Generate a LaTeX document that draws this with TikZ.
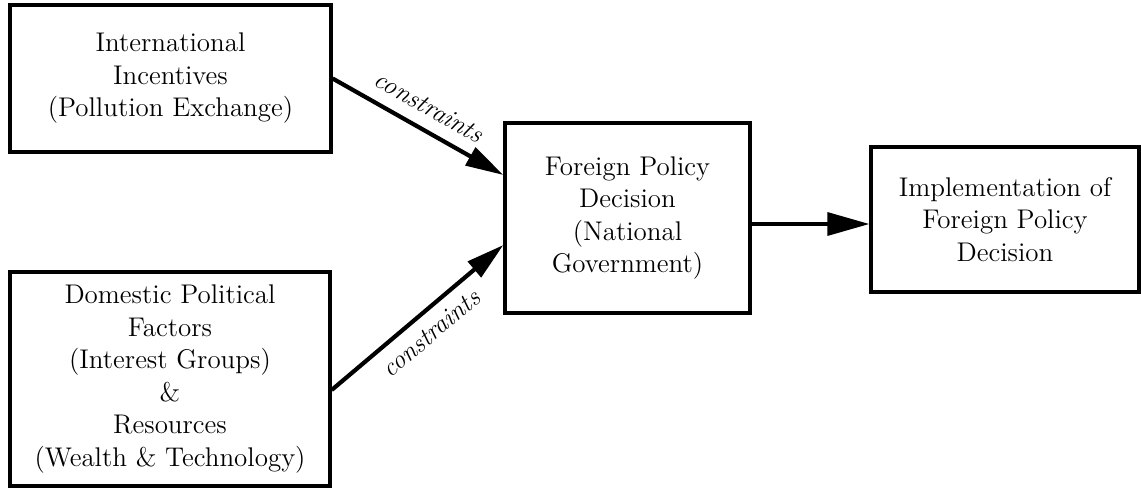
\documentclass[tikz,border=0pt]{standalone}
\usetikzlibrary{arrows.meta}
\begin{document}
\begin{tikzpicture}[x=0.5pt, y=-0.5pt,
    box/.style={draw, line width=1.65pt, align=center, inner sep=0pt,
      font=\fontsize{13.5}{16.25}\selectfont},
    push/.style={line width=2.1pt, -{Triangle[length=19pt, width=10pt]}},
    lbl/.style={font=\fontsize{13}{15}\selectfont\itshape, sloped, midway}]
    \useasboundingbox (0,0) rectangle (1141,488);

    % Sources
    \node[box, minimum width=160.5pt, minimum height=73.5pt] (intl) at (170.5, 78.5)
        {International\\Incentives\\(Pollution Exchange)};
    \node[box, minimum width=160pt, minimum height=107pt] (dom) at (170, 379)
        {Domestic Political\\Factors\\(Interest Groups)\\\&\\Resources\\(Wealth \& Technology)};

    % Decision
    \node[box, minimum width=122.5pt, minimum height=95pt] (dec) at (627.5, 218)
        {Foreign Policy\\Decision\\(National\\Government)};
    \node[box, minimum width=134pt, minimum height=72.5pt] (impl) at (1005, 219.5)
        {Implementation of\\Foreign Policy\\Decision};

    % Arrows
    \draw[push] (intl.east) -- ([yshift=21.5pt]dec.west)
        node[lbl, above, inner sep=6pt] {constraints};
    \draw[push] ([yshift=-5.5pt]dom.east) -- ([yshift=-13.5pt]dec.west)
        node[lbl, below, inner sep=5pt] {constraints};
    \draw[line width=1.7pt, -{Triangle[length=21pt, width=11.5pt]}]
        ([yshift=-3pt]dec.east) -- ([yshift=-2.25pt]impl.west);
\end{tikzpicture}
\end{document}
